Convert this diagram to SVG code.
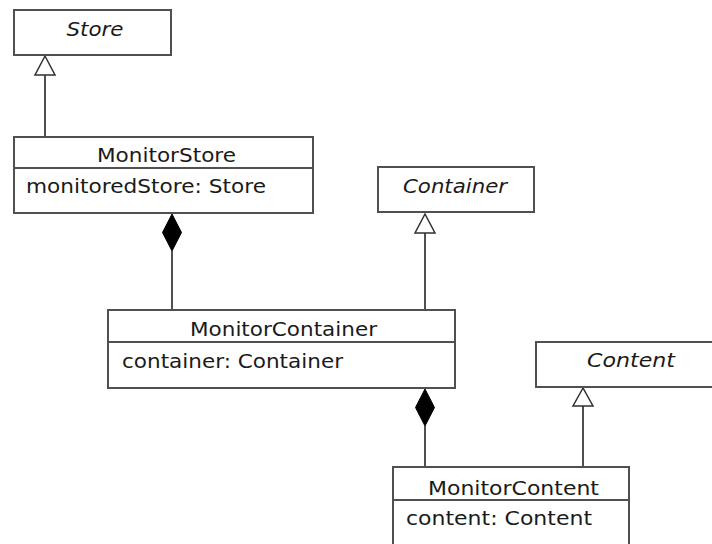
<svg xmlns="http://www.w3.org/2000/svg" width="712" height="544" viewBox="0 0 712 544">
  <style>
    .box { fill: #ffffff; stroke: #505050; stroke-width: 2; }
    .sep { stroke: #505050; stroke-width: 2; }
    .edge { stroke: #505050; stroke-width: 2; fill: none; }
    .gen { fill: #ffffff; stroke: #303030; stroke-width: 1.5; }
    .comp { fill: #000000; stroke: #000000; stroke-width: 1; }
    text { font-family: "DejaVu Sans", sans-serif; font-size: 19px; fill: #1a1a1a; }
    .title { text-anchor: middle; }
    .abstract { font-style: italic; text-anchor: middle; }
  </style>
  <rect x="0" y="0" width="712" height="544" fill="#ffffff"/>

  <g id="connectors">
    <!-- MonitorStore generalizes Store -->
    <line class="edge" x1="45" y1="75" x2="45" y2="137"/>
    <polygon class="gen" points="45,56 35,75 55,75"/>
    <!-- MonitorContainer composed into MonitorStore -->
    <line class="edge" x1="172" y1="251" x2="172" y2="310"/>
    <polygon class="comp" points="172,214 181.5,232.5 172,251 162.5,232.5"/>
    <!-- MonitorContainer generalizes Container -->
    <line class="edge" x1="425" y1="233" x2="425" y2="310"/>
    <polygon class="gen" points="425,214 415,233 435,233"/>
    <!-- MonitorContent composed into MonitorContainer -->
    <line class="edge" x1="425" y1="426" x2="425" y2="467"/>
    <polygon class="comp" points="425,389 434.5,407.5 425,426 415.5,407.5"/>
    <!-- MonitorContent generalizes Content -->
    <line class="edge" x1="583" y1="406" x2="583" y2="467"/>
    <polygon class="gen" points="583,388 573,406 593,406"/>
  </g>

  <g id="Store">
    <rect class="box" x="14" y="10" width="157" height="45"/>
    <text class="abstract" x="95" y="36" textLength="57" lengthAdjust="spacingAndGlyphs">Store</text>
  </g>

  <g id="MonitorStore">
    <rect class="box" x="14" y="137" width="299" height="76"/>
    <line class="sep" x1="14" y1="168" x2="313" y2="168"/>
    <text class="title" x="166.5" y="162" textLength="139" lengthAdjust="spacingAndGlyphs">MonitorStore</text>
    <text x="26" y="193" textLength="240" lengthAdjust="spacingAndGlyphs">monitoredStore: Store</text>
  </g>

  <g id="Container">
    <rect class="box" x="378" y="167" width="156" height="45"/>
    <text class="abstract" x="455" y="193" textLength="104" lengthAdjust="spacingAndGlyphs">Container</text>
  </g>

  <g id="MonitorContainer">
    <rect class="box" x="108" y="310" width="347" height="78"/>
    <line class="sep" x1="108" y1="342" x2="455" y2="342"/>
    <text class="title" x="283.5" y="336" textLength="187" lengthAdjust="spacingAndGlyphs">MonitorContainer</text>
    <text x="122" y="368" textLength="221" lengthAdjust="spacingAndGlyphs">container: Container</text>
  </g>

  <g id="Content">
    <rect class="box" x="536" y="342" width="190" height="45"/>
    <text class="abstract" x="631" y="367" textLength="88" lengthAdjust="spacingAndGlyphs">Content</text>
  </g>

  <g id="MonitorContent">
    <rect class="box" x="393" y="467" width="236" height="90"/>
    <line class="sep" x1="393" y1="500" x2="629" y2="500"/>
    <text class="title" x="513.5" y="495" textLength="171" lengthAdjust="spacingAndGlyphs">MonitorContent</text>
    <text x="406" y="525" textLength="186" lengthAdjust="spacingAndGlyphs">content: Content</text>
  </g>
</svg>
